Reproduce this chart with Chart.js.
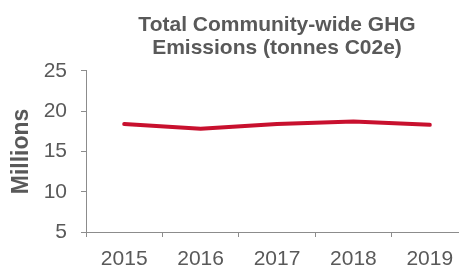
<!DOCTYPE html>
<html><head><meta charset="utf-8">
<script src="https://cdn.jsdelivr.net/npm/chart.js@4.4.1/dist/chart.umd.min.js"></script>
<style>
html,body{margin:0;padding:0;background:#fff;overflow:hidden;width:459px;height:265px;}
#wrap{position:relative;width:468px;height:270px;}
</style></head>
<body><div id="wrap"><canvas id="c" width="468" height="270"></canvas></div>
<script>
const categories = ['2015','2016','2017','2018','2019'];
const emissions = [18.4, 17.8, 18.4, 18.7, 18.3];
const yTicks = [5, 10, 15, 20, 25];
const titleLines = ['Total Community-wide GHG', 'Emissions (tonnes C02e)'];
const yTitle = 'Millions';

const grey = '#595959';
const axisGrey = '#8c8c8c';
const fam = 'Liberation Sans, Arial, sans-serif';
new Chart(document.getElementById('c'), {
  type: 'line',
  data: { labels: categories, datasets: [{ data: emissions, borderColor: '#C8102E', borderWidth: 4, pointRadius: 0, tension: 0, borderCapStyle: 'round', borderJoinStyle: 'round' }] },
  options: {
    responsive: false, animation: false,
    layout: { padding: { left: 8, right: 0, top: 0, bottom: 0 } },
    plugins: {
      legend: { display: false }, tooltip: { enabled: false },
      title: { display: true, text: titleLines, fullSize: false, color: grey,
        font: { family: fam, size: 21, weight: 'bold', lineHeight: 1.08 },
        padding: { top: 14, bottom: 11.5 } }
    },
    scales: {
      x: { type: 'category', offset: true,
        afterFit: s => { s.height = 38; },
        grid: { display: true, drawOnChartArea: false, drawTicks: true, tickLength: 5, color: axisGrey, offset: true },
        border: { display: true, color: axisGrey, width: 1 },
        ticks: { color: grey, padding: 10, font: { family: fam, size: 21 }, maxRotation: 0 } },
      y: { min: 5, max: 25,
        afterBuildTicks: s => { s.ticks = yTicks.map(v => ({ value: v })); },
        afterFit: s => { s.width = 78; },
        grid: { display: true, drawOnChartArea: false, drawTicks: true, tickLength: 5, color: axisGrey },
        border: { display: true, color: axisGrey, width: 1 },
        ticks: { color: grey, padding: 14, font: { family: fam, size: 21 } },
        title: { display: true, text: yTitle, color: grey, padding: { top: 0, bottom: 0 },
          font: { family: fam, size: 23, weight: 'bold', lineHeight: 1.2 } } }
    }
  }
});
</script></body></html>
